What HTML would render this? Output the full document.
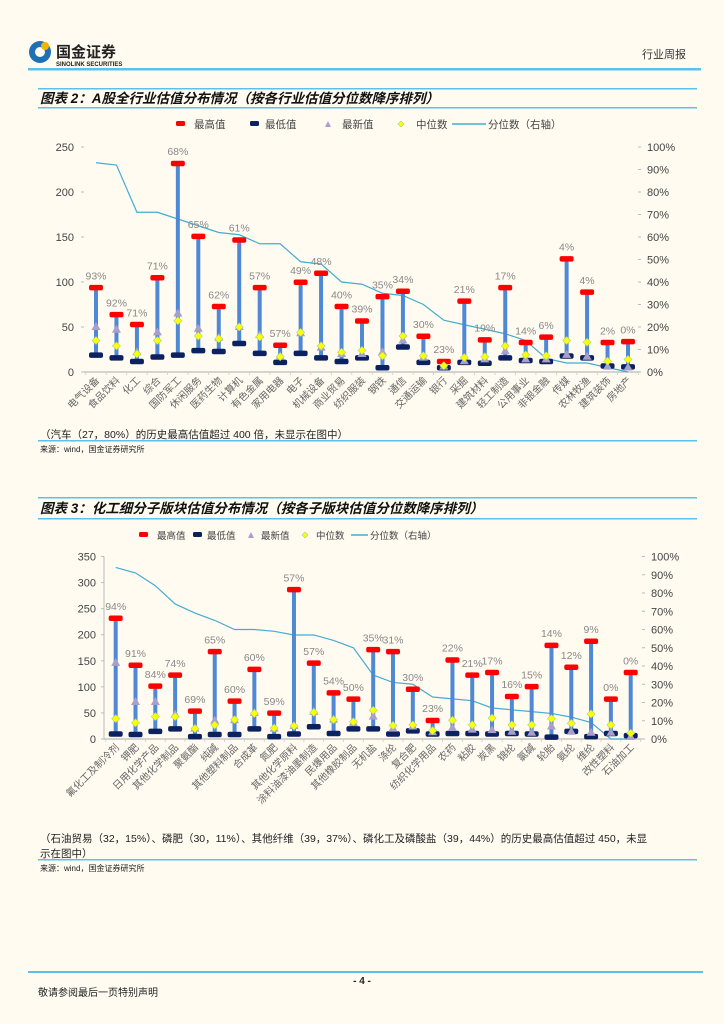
<!DOCTYPE html>
<html><head><meta charset="utf-8">
<style>
html,body{margin:0;padding:0;background:#fffbf1;}
body{width:724px;height:1024px;overflow:hidden;position:relative;font-family:"Liberation Sans","Noto Sans CJK SC",sans-serif;}
svg{position:absolute;left:0;top:0;}
</style></head>
<body>
<svg id="page" width="724" height="1024" viewBox="0 0 724 1024" xmlns="http://www.w3.org/2000/svg" font-family="Liberation Sans, Noto Sans CJK SC, sans-serif">
  <g>
    <circle cx="40" cy="52" r="11" fill="#1f6fb5"/>
    <circle cx="40" cy="52" r="5" fill="#fffbf1"/>
    <circle cx="45" cy="46" r="4" fill="#f2b300"/>
    <text x="56" y="57" font-size="15" font-weight="bold" fill="#222">国金证券</text>
    <text x="56" y="66" font-size="6" font-weight="bold" fill="#222">SINOLINK SECURITIES</text>
  </g>
  <text x="686" y="58" font-size="11" fill="#333" text-anchor="end">行业周报</text>
  <rect x="28" y="68" width="673" height="2.5" fill="#5bc0eb"/>

  <rect x="38" y="88" width="659" height="1.5" fill="#5bc0eb"/>
  <rect x="38" y="107" width="659" height="1.5" fill="#5bc0eb"/>
  <text x="40" y="103" font-size="13.5" font-weight="bold" font-style="italic" fill="#111">图表 2：A股全行业估值分布情况（按各行业估值分位数降序排列）</text>

  <g id="legend1"></g>
  <g id="chart1"></g>

  <text x="40" y="438" font-size="10.5" fill="#222">（汽车（27，80%）的历史最高估值超过 400 倍，未显示在图中）</text>
  <rect x="38" y="440" width="659" height="1.5" fill="#5bc0eb"/>
  <text x="40" y="452" font-size="8" fill="#222">来源：wind，国金证券研究所</text>

  <rect x="38" y="497" width="659" height="1.5" fill="#5bc0eb"/>
  <rect x="38" y="518" width="659" height="1.5" fill="#5bc0eb"/>
  <text x="40" y="513" font-size="13.5" font-weight="bold" font-style="italic" fill="#111">图表 3：化工细分子版块估值分布情况（按各子版块估值分位数降序排列）</text>

  <g id="legend2"></g>
  <g id="chart2"></g>

  <text x="40" y="842" font-size="10.5" fill="#222">（石油贸易（32，15%）、磷肥（30，11%）、其他纤维（39，37%）、磷化工及磷酸盐（39，44%）的历史最高估值超过 450，未显</text>
  <text x="40" y="857" font-size="10.5" fill="#222">示在图中）</text>
  <rect x="38" y="859" width="659" height="1.5" fill="#5bc0eb"/>
  <text x="40" y="871" font-size="8" fill="#222">来源：wind，国金证券研究所</text>

  <rect x="28" y="971" width="675" height="2" fill="#5bc0eb"/>
  <text x="362" y="984" font-size="10" font-weight="bold" fill="#222" text-anchor="middle">- 4 -</text>
  <text x="38" y="996" font-size="10" fill="#222">敬请参阅最后一页特别声明</text>
</svg>
<script>
// ---- Chart 1 data ----
const cats1 = ["电气设备","食品饮料","化工","综合","国防军工","休闲服务","医药生物","计算机","有色金属","家用电器","电子","机械设备","商业贸易","纺织服装","钢铁","通信","交通运输","银行","采掘","建筑材料","轻工制造","公用事业","非银金融","传媒","农林牧渔","建筑装饰","房地产"];
const max1 = [94,64,53,105,232,151,73,147,94,30,100,110,73,57,84,90,40,12,79,36,94,33,39,126,89,33,34];
const min1 = [19,16,12,17,19,24,23,32,21,11,21,16,12,16,5,28,11,5,11,10,16,13,12,18,16,7,6];
const latest1 = [50,47,22,44,65,48,38,50,41,17,43,27,20,20,22,35,16,6,12,14,23,14,14,19,17,6,5];
const median1 = [35,29,20,35,57,40,37,50,39,17,44,29,22,24,18,40,18,7,16,17,29,19,18,35,33,12,14];
const pct1 = [93,92,71,71,68,65,62,61,57,57,49,48,40,39,35,34,30,23,21,19,17,14,6,4,4,2,0];
const leftTicks1 = [0,50,100,150,200,250];
const rightTicks = [0,10,20,30,40,50,60,70,80,90,100];

// ---- Chart 2 data ----
const cats2 = ["氟化工及制冷剂","钾肥","日用化学产品","其他化学制品","聚氨酯","纯碱","其他塑料制品","合成革","氮肥","其他化学原料","涂料油漆油墨制造","民爆用品","其他橡胶制品","无机盐","涤纶","复合肥","纺织化学用品","农药","粘胶","炭黑","锦纶","氯碱","轮胎","氨纶","维纶","改性塑料","石油加工"];
const max2 = [232,142,102,123,54,168,73,134,50,287,146,89,77,172,168,96,36,152,123,128,82,101,180,138,188,77,128];
const min2 = [10,9,15,20,5,9,9,20,5,10,24,11,20,20,10,16,10,11,11,10,11,10,4,15,5,11,7];
const latest2 = [146,71,71,47,20,35,36,50,20,25,52,37,31,43,20,24,13,21,18,17,14,12,24,14,12,12,4];
const median2 = [39,31,43,43,20,27,37,49,21,25,51,37,33,55,26,27,16,36,27,40,27,27,39,30,48,27,11];
const pct2 = [94,91,84,74,69,65,60,60,59,57,57,54,50,35,31,30,23,22,21,17,16,15,14,12,9,0,0];
const leftTicks2 = [0,50,100,150,200,250,300,350];

const NS = "http://www.w3.org/2000/svg";
function mk(parent, tag, attrs){
  const e = document.createElementNS(NS, tag);
  for (const k in attrs) e.setAttribute(k, attrs[k]);
  parent.appendChild(e);
  return e;
}

function legend(g, y, xs, fs){
  let e;
  e = mk(g,"rect",{x:xs[0],y:y-3,width:9,height:5,rx:1.5,fill:"#ff0000"});
  
  
  e = mk(g,"text",{x:xs[1],y:y+4,"font-size":fs,fill:"#444"}); e.textContent="最高值";
  
  
  e = mk(g,"rect",{x:xs[2],y:y-3,width:9,height:5,rx:1.5,fill:"#0b2160"});
  
  
  e = mk(g,"text",{x:xs[3],y:y+4,"font-size":fs,fill:"#444"}); e.textContent="最低值";
  
  
  e = mk(g,"polygon",{points:`${xs[4]},${y+3} ${xs[4]+6},${y+3} ${xs[4]+3},${y-3}`,fill:"#a99fca"});
  
  
  e = mk(g,"text",{x:xs[5],y:y+4,"font-size":fs,fill:"#444"}); e.textContent="最新值";
  
  
  e = mk(g,"polygon",{points:`${xs[6]+3},${y-3} ${xs[6]+6},${y} ${xs[6]+3},${y+3} ${xs[6]},${y}`,fill:"#ffff00",stroke:"#9fd67a","stroke-width":0.6});
  
  
  e = mk(g,"text",{x:xs[7],y:y+4,"font-size":fs,fill:"#444"}); e.textContent="中位数";
  
  
  e = mk(g,"line",{x1:xs[8],y1:y,x2:xs[9],y2:y,stroke:"#45acd0","stroke-width":1.5});
  
  
  e = mk(g,"text",{x:xs[9]+2,y:y+4,"font-size":fs,fill:"#444"}); e.textContent="分位数（右轴）";
  
  
}
legend(document.getElementById("legend1"),124,[176,194,250,265,325,342,398,416,452,486],10.5);
legend(document.getElementById("legend2"),535,[139,157,193,207,248,261,302,316,351,368],9.5);

function chart(g, cfg){
  const {cats,mx,mn,lt,md,pct,ticks,vmax,y0,y1,xFirst,xLast,axisX0,axisX1,leftLabelX,rightTickX,leftLine} = cfg;
  const yL = v => y0 - (v / vmax) * (y0 - y1);
  const yR = p => y0 - (p / 100) * (y0 - y1);
  const step = (xLast - xFirst) / (cats.length - 1);
  const xC = i => xFirst + i * step;
  let e;
  ticks.forEach(t => {
    e = mk(g,"text",{x:leftLabelX,y:yL(t)+4,"font-size":11,fill:"#444","text-anchor":"end"});
    e.textContent = t;
    
    
    mk(g,"line",{x1:axisX0-3,y1:yL(t),x2:axisX0,y2:yL(t),stroke:"#bbb","stroke-width":1});
  });
  if (leftLine){
    e = mk(g,"line",{x1:axisX0,y1:y0,x2:axisX0,y2:y1,stroke:"#bbb","stroke-width":1});
    
    
  }
  rightTicks.forEach(t => {
    mk(g,"line",{x1:rightTickX,y1:yR(t),x2:rightTickX+3,y2:yR(t),stroke:"#bbb","stroke-width":1});
    e = mk(g,"text",{x:rightTickX+9,y:yR(t)+4,"font-size":11,fill:"#444"});
    e.textContent = t + "%";
    
    
  });
  e = mk(g,"line",{x1:axisX0,y1:y0,x2:axisX1,y2:y0,stroke:"#bbb","stroke-width":1.2});
  
  
  for (let i=0;i<=cats.length;i++){
    const xx = xFirst + (i-0.5)*step;
    mk(g,"line",{x1:xx,y1:y0,x2:xx,y2:y0+3,stroke:"#ccc","stroke-width":0.8});
  }
  cats.forEach((c,i) => {
    const x = xC(i)+4, y = y0+9;
    e = mk(g,"text",{x:x,y:y,"font-size":10,fill:"#666","text-anchor":"end",transform:`rotate(-45 ${x} ${y})`});
    e.textContent = c;
    
    
  });
  const pts = pct.map((p,i) => `${xC(i)},${yR(p)}`).join(" ");
  e = mk(g,"polyline",{points:pts,fill:"none",stroke:"#45acd0","stroke-width":1.2});
  
  
  cats.forEach((c,i) => {
    const x = xC(i);
    e = mk(g,"rect",{x:x-2,y:yL(mx[i]),width:4,height:yL(mn[i])-yL(mx[i]),fill:"#4f88d4"});
    
    
    e = mk(g,"rect",{x:x-7,y:yL(mn[i])-2.5,width:14,height:5.5,rx:2,fill:"#0b2160"});
    
    
    e = mk(g,"rect",{x:x-7,y:yL(mx[i])-2.5,width:14,height:5.5,rx:2,fill:"#ff0000"});
    
    
    const ly = yL(lt[i]);
    e = mk(g,"polygon",{points:`${x-4.5},${ly+3} ${x+4.5},${ly+3} ${x},${ly-5}`,fill:"#a99fca"});
    
    
    const my = yL(md[i]);
    e = mk(g,"polygon",{points:`${x},${my-4} ${x+4},${my} ${x},${my+4} ${x-4},${my}`,fill:"#ffff00",stroke:"#9fd67a","stroke-width":0.6});
    
    
    e = mk(g,"text",{x:x,y:yL(mx[i])-8,"font-size":10.5,fill:"#888","text-anchor":"middle"});
    e.textContent = pct[i] + "%";
    
    
  });
}

chart(document.getElementById("chart1"),{cats:cats1,mx:max1,mn:min1,lt:latest1,md:median1,pct:pct1,ticks:leftTicks1,vmax:250,y0:372,y1:147,xFirst:96,xLast:628,axisX0:84,axisX1:640,leftLabelX:74,rightTickX:638,leftLine:false});
chart(document.getElementById("chart2"),{cats:cats2,mx:max2,mn:min2,lt:latest2,md:median2,pct:pct2,ticks:leftTicks2,vmax:350,y0:739,y1:556.5,xFirst:115.7,xLast:630.7,axisX0:104,axisX1:642,leftLabelX:96,rightTickX:642,leftLine:true});
</script>
</body></html>
